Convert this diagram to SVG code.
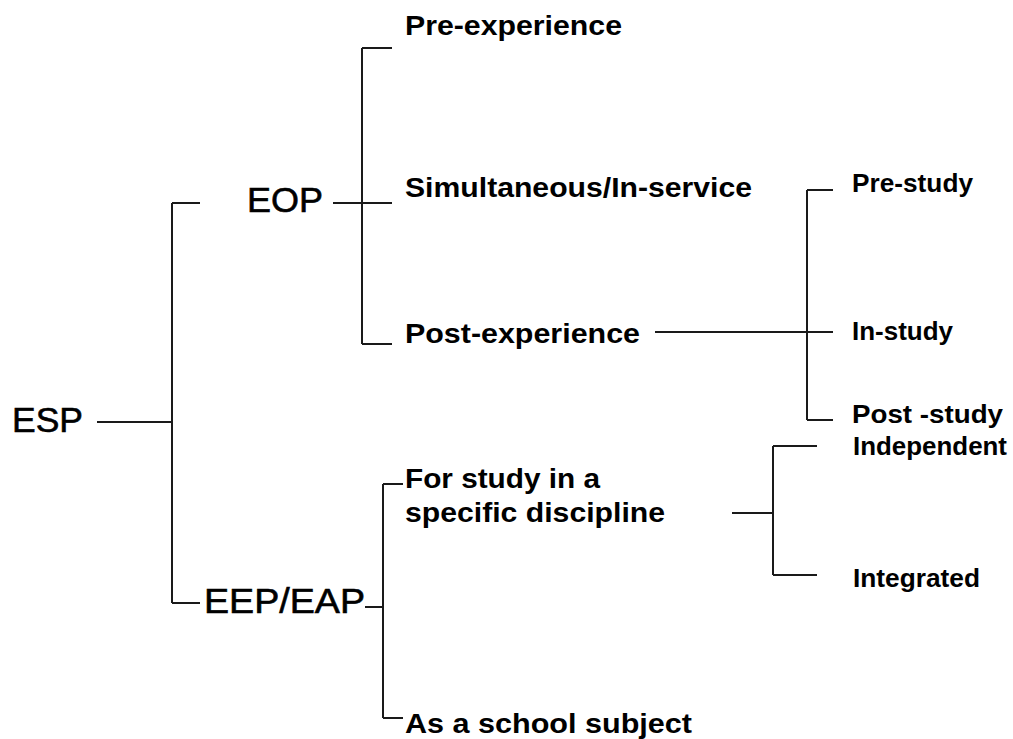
<svg xmlns="http://www.w3.org/2000/svg" width="1013" height="739" viewBox="0 0 1013 739">
<style>
.big{font-family:"Liberation Sans",Arial,sans-serif;font-size:35px;fill:#000;stroke:#000;stroke-width:0.6}
.mid{font-family:"Liberation Sans",Arial,sans-serif;font-size:28px;font-weight:bold;fill:#000}
.sm{font-family:"Liberation Sans",Arial,sans-serif;font-size:26px;font-weight:bold;fill:#000}
.c line{stroke:#1a1a1a;stroke-width:2;fill:none}
</style>
<rect width="1013" height="739" fill="#fff"/>
<g class="c" id="connectors">
<line x1="97" y1="422" x2="172" y2="422"/>
<line x1="172" y1="203" x2="172" y2="603"/>
<line x1="172" y1="203" x2="200" y2="203"/>
<line x1="172" y1="603" x2="200" y2="603"/>
<line x1="333" y1="203" x2="392" y2="203"/>
<line x1="362" y1="48" x2="362" y2="344"/>
<line x1="362" y1="48" x2="392" y2="48"/>
<line x1="362" y1="344" x2="392" y2="344"/>
<line x1="655" y1="332" x2="833" y2="332"/>
<line x1="807" y1="190" x2="807" y2="420"/>
<line x1="807" y1="190" x2="833" y2="190"/>
<line x1="807" y1="420" x2="833" y2="420"/>
<line x1="365" y1="607" x2="383" y2="607"/>
<line x1="383" y1="484" x2="383" y2="718"/>
<line x1="383" y1="484" x2="403" y2="484"/>
<line x1="383" y1="718" x2="403" y2="718"/>
<line x1="732" y1="513" x2="773" y2="513"/>
<line x1="773" y1="446" x2="773" y2="575"/>
<line x1="773" y1="446" x2="817" y2="446"/>
<line x1="773" y1="575" x2="817" y2="575"/>
</g>
<g id="esp"><text class="big" x="12" y="432" textLength="71" lengthAdjust="spacingAndGlyphs">ESP</text></g>
<g id="eop"><text class="big" x="247" y="212" textLength="76" lengthAdjust="spacingAndGlyphs">EOP</text></g>
<g id="eep"><text class="big" x="204" y="613" textLength="161" lengthAdjust="spacingAndGlyphs">EEP/EAP</text></g>
<g id="pre-experience"><text class="mid" x="405" y="35" textLength="217" lengthAdjust="spacingAndGlyphs">Pre-experience</text></g>
<g id="simultaneous"><text class="mid" x="405" y="197" textLength="347" lengthAdjust="spacingAndGlyphs">Simultaneous/In-service</text></g>
<g id="post-experience"><text class="mid" x="405" y="343" textLength="235" lengthAdjust="spacingAndGlyphs">Post-experience</text></g>
<g id="for-study">
<text class="mid" x="405" y="488" textLength="195" lengthAdjust="spacingAndGlyphs">For study in a</text>
<text class="mid" x="405" y="522" textLength="260" lengthAdjust="spacingAndGlyphs">specific discipline</text>
</g>
<g id="school-subject"><text class="mid" x="405" y="733" textLength="287" lengthAdjust="spacingAndGlyphs">As a school subject</text></g>
<g id="pre-study"><text class="sm" x="852" y="192" textLength="121" lengthAdjust="spacingAndGlyphs">Pre-study</text></g>
<g id="in-study"><text class="sm" x="852" y="340" textLength="101" lengthAdjust="spacingAndGlyphs">In-study</text></g>
<g id="post-study"><text class="sm" x="852" y="423" textLength="151" lengthAdjust="spacingAndGlyphs">Post -study</text></g>
<g id="independent"><text class="sm" x="853" y="455" textLength="154" lengthAdjust="spacingAndGlyphs">Independent</text></g>
<g id="integrated"><text class="sm" x="853" y="587" textLength="127" lengthAdjust="spacingAndGlyphs">Integrated</text></g>
</svg>
